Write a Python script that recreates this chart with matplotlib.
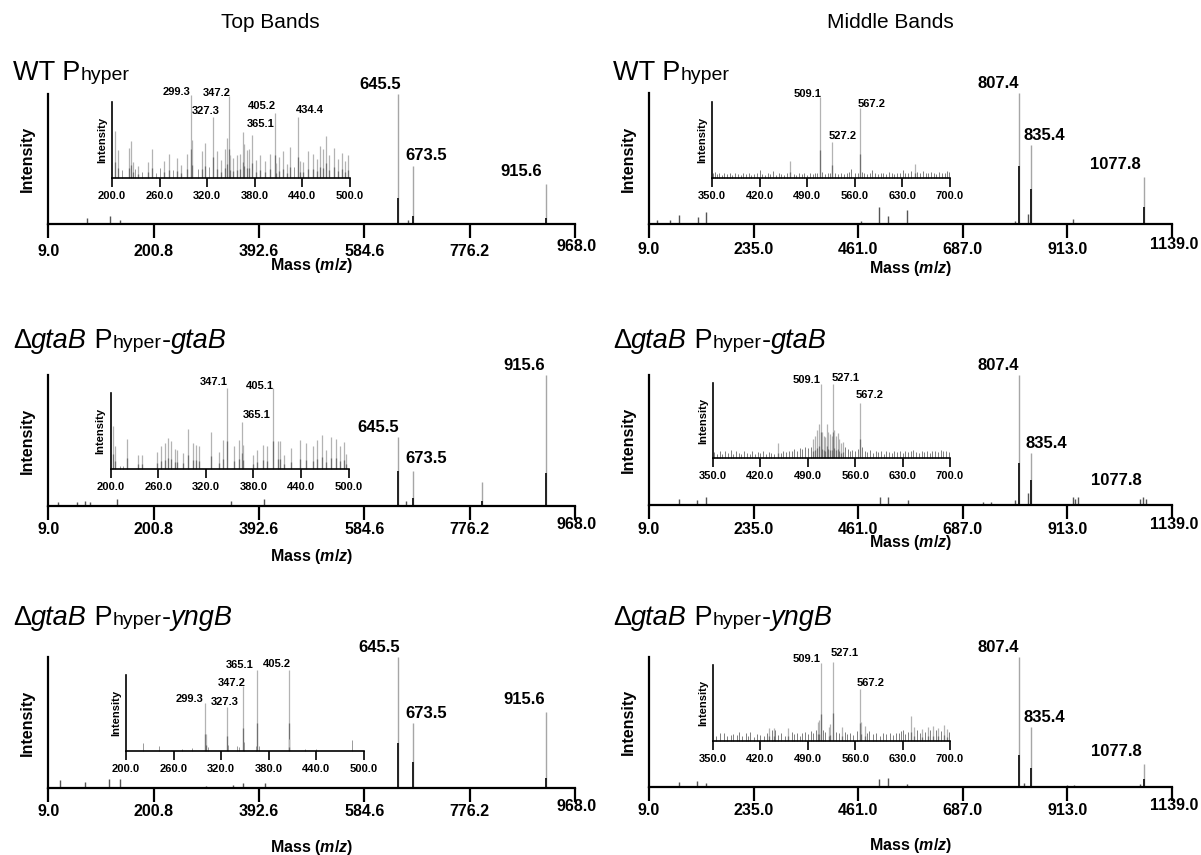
import matplotlib
matplotlib.use("Agg")
import matplotlib.pyplot as plt
from matplotlib.transforms import offset_copy

# ---------------- data ----------------
LEFT_TICKS = [9.0, 200.8, 392.6, 584.6, 776.2, 968.0]
RIGHT_TICKS = [9.0, 235.0, 461.0, 687.0, 913.0, 1139.0]
LEFT_INSET_TICKS = [200.0, 260.0, 320.0, 380.0, 440.0, 500.0]
RIGHT_INSET_TICKS = [350.0, 420.0, 490.0, 560.0, 630.0, 700.0]

COLUMN_TITLES = ["Top Bands", "Middle Bands"]

# Panel A: Top Bands, WT Phyper
A_MAIN_MZ = [30, 79, 121.5, 139, 297, 345, 645.5, 664, 673.5, 915.6]
A_MAIN_INT = [0.01, 0.05, 0.06, 0.03, 0.01, 0.01, 1.0, 0.03, 0.45, 0.31]
A_CORE_MZ = [645.5, 673.5, 915.6]
A_CORE_INT = [0.20, 0.06, 0.05]
A_MAIN_LABELS = [645.5, 673.5, 915.6]
A_INSET_MZ = [204, 208, 213, 222, 224, 226, 229, 233, 238, 245, 251, 256, 260, 266, 272, 277,
              282, 287, 294, 299.3, 300.5, 308, 313, 317, 322, 327.3, 332, 338, 342, 345, 347.2,
              349, 352, 357, 361, 365.1, 367, 370, 373, 377, 382, 387, 393, 399, 405.2, 407, 410,
              416, 420, 424, 429, 434.4, 437, 441, 447, 453, 458, 462, 466, 470, 474, 480, 485,
              490, 494, 497]
A_INSET_INT = [0.62, 0.37, 0.10, 0.39, 0.49, 0.21, 0.12, 0.16, 0.08, 0.21, 0.38, 0.07, 0.13, 0.22,
               0.31, 0.10, 0.26, 0.17, 0.32, 1.09, 0.50, 0.12, 0.35, 0.46, 0.15, 0.80, 0.35, 0.24,
               0.38, 0.53, 1.08, 0.30, 0.26, 0.30, 0.32, 0.61, 0.45, 0.37, 0.38, 0.57, 0.24, 0.30,
               0.22, 0.32, 0.85, 0.20, 0.28, 0.35, 0.18, 0.41, 0.15, 0.80, 0.22, 0.21, 0.35, 0.32,
               0.25, 0.42, 0.38, 0.55, 0.30, 0.40, 0.25, 0.33, 0.22, 0.30]
A_INSET_LABELS = [299.3, 327.3, 347.2, 365.1, 405.2, 434.4]

# Panel B: Middle Bands, WT Phyper
B_MAIN_MZ = [26, 55, 73, 114, 132, 467, 507, 525, 567, 800, 807.4, 828, 835.4, 925, 1040, 1077.8]
B_MAIN_INT = [0.03, 0.03, 0.07, 0.05, 0.09, 0.02, 0.13, 0.06, 0.11, 0.02, 1.0, 0.08, 0.60, 0.04,
              0.01, 0.36]
B_CORE_MZ = [807.4, 835.4, 1077.8]
B_CORE_INT = [0.44, 0.27, 0.13]
B_MAIN_LABELS = [807.4, 835.4, 1077.8]
B_INSET_MZ = [352, 355, 358, 361, 364, 368, 372, 376, 380, 384, 388, 392, 396, 400, 404, 408, 412,
              416, 420, 424, 428, 432, 436, 440, 444, 448, 452, 456, 460, 465, 470, 474, 478, 482,
              486, 490, 494, 498, 502, 505, 509.1, 512, 516, 520, 524, 527.2, 531, 535, 540, 544,
              548, 552, 555, 560, 564, 567.2, 570, 574, 578, 582, 585, 590, 594, 598, 602, 606,
              610, 614, 618, 622, 626, 631, 634, 638, 642, 648, 652, 656, 660, 664, 668, 672, 676,
              680, 684, 688, 692, 696, 699]
B_INSET_INT = [0.06, 0.08, 0.05, 0.07, 0.04, 0.06, 0.05, 0.07, 0.04, 0.06, 0.05, 0.04, 0.07, 0.05,
               0.06, 0.04, 0.05, 0.07, 0.10, 0.05, 0.04, 0.06, 0.05, 0.09, 0.04, 0.06, 0.05, 0.04,
               0.06, 0.22, 0.05, 0.04, 0.06, 0.05, 0.07, 0.04, 0.06, 0.05, 0.07, 0.06, 1.07, 0.08,
               0.05, 0.06, 0.07, 0.48, 0.06, 0.05, 0.07, 0.05, 0.06, 0.08, 0.12, 0.06, 0.07, 0.92,
               0.08, 0.06, 0.05, 0.07, 0.10, 0.06, 0.05, 0.07, 0.06, 0.05, 0.08, 0.06, 0.05, 0.07,
               0.06, 0.10, 0.06, 0.07, 0.09, 0.18, 0.08, 0.06, 0.09, 0.07, 0.06, 0.08, 0.07, 0.05,
               0.08, 0.06, 0.07, 0.09, 0.08]
B_INSET_LABELS = [509.1, 527.2, 567.2]

# Panel C: Top Bands, dgtaB Phyper-gtaB
C_MAIN_MZ = [27, 61, 76, 85, 134, 342, 401, 645.5, 661, 673.5, 798, 915.6]
C_MAIN_INT = [0.03, 0.03, 0.04, 0.03, 0.05, 0.04, 0.05, 0.53, 0.04, 0.27, 0.18, 1.0]
C_CORE_MZ = [645.5, 673.5, 798, 915.6]
C_CORE_INT = [0.27, 0.06, 0.04, 0.25]
C_MAIN_LABELS = [645.5, 673.5, 915.6]
C_INSET_MZ = [203.4, 205, 212, 215, 221, 235, 239, 258, 263, 269, 272, 276, 281, 284, 291, 297,
              304, 308, 311, 327, 336, 341, 347.1, 356, 362, 365.1, 367, 380, 384, 392, 397,
              405.1, 411, 414, 418, 427, 439, 446, 455, 460, 466, 472, 478, 484, 489, 494, 497]
C_INSET_INT = [0.56, 0.30, 0.04, 0.04, 0.40, 0.19, 0.19, 0.22, 0.30, 0.34, 0.41, 0.37, 0.26, 0.25,
               0.21, 0.52, 0.34, 0.32, 0.30, 0.49, 0.22, 0.38, 1.06, 0.30, 0.38, 0.62, 0.32, 0.18,
               0.25, 0.32, 0.30, 1.07, 0.37, 0.37, 0.19, 0.27, 0.38, 0.34, 0.30, 0.38, 0.45, 0.25,
               0.42, 0.40, 0.30, 0.35, 0.20]
C_INSET_LABELS = [347.1, 365.1, 405.1]

# Panel D: Middle Bands, dgtaB Phyper-gtaB
D_MAIN_MZ = [74, 113, 132, 508, 526, 568, 731, 748, 800, 807.4, 828, 835.4, 925, 930, 935,
             1070, 1076, 1082]
D_MAIN_INT = [0.05, 0.04, 0.065, 0.06, 0.06, 0.04, 0.02, 0.02, 0.04, 1.0, 0.09, 0.40, 0.065,
              0.05, 0.06, 0.05, 0.06, 0.05]
D_CORE_MZ = [807.4, 835.4]
D_CORE_INT = [0.32, 0.19]
D_MAIN_LABELS = [807.4, 835.4, 1077.8]
D_INSET_MZ = [352, 356, 360, 364, 368, 372, 376, 380, 384, 388, 392, 396, 400, 404, 408, 412, 416,
              420, 424, 428, 432, 436, 440, 446, 450, 454, 458, 462, 466, 470, 474, 478, 482, 486,
              490, 495, 498, 501, 504, 506, 509.1, 511, 514, 516, 518, 520, 523, 525, 527.1, 529,
              531, 534, 536, 539, 542, 545, 549, 552, 556, 560, 564, 567.2, 570, 574, 578, 582,
              586, 590, 594, 598, 602, 606, 610, 614, 618, 622, 626, 630, 634, 638, 642, 646, 650,
              654, 658, 662, 666, 670, 674, 678, 682, 686, 690, 694, 698]
D_INSET_INT = [0.08, 0.06, 0.10, 0.05, 0.09, 0.07, 0.11, 0.06, 0.09, 0.07, 0.05, 0.10, 0.07, 0.06,
               0.09, 0.05, 0.08, 0.07, 0.10, 0.06, 0.08, 0.07, 0.06, 0.20, 0.07, 0.09, 0.08, 0.10,
               0.09, 0.12, 0.10, 0.13, 0.12, 0.15, 0.14, 0.15, 0.25, 0.30, 0.38, 0.45, 0.99, 0.35,
               0.30, 0.28, 0.45, 0.35, 0.32, 0.30, 0.99, 0.38, 0.30, 0.33, 0.25, 0.20, 0.22, 0.15,
               0.12, 0.10, 0.11, 0.09, 0.12, 0.73, 0.15, 0.09, 0.08, 0.11, 0.07, 0.09, 0.08, 0.10,
               0.06, 0.09, 0.08, 0.07, 0.10, 0.08, 0.09, 0.07, 0.10, 0.08, 0.09, 0.11, 0.08, 0.07,
               0.10, 0.08, 0.09, 0.07, 0.10, 0.09, 0.08, 0.11, 0.09, 0.10, 0.08]
D_INSET_LABELS = [509.1, 527.1, 567.2]

# Panel E: Top Bands, dgtaB Phyper-yngB
E_MAIN_MZ = [30, 76, 120, 139, 297, 345, 364, 404, 645.5, 673.5, 915.6]
E_MAIN_INT = [0.06, 0.045, 0.065, 0.07, 0.015, 0.02, 0.04, 0.04, 1.0, 0.50, 0.58]
E_CORE_MZ = [645.5, 673.5, 915.6]
E_CORE_INT = [0.34, 0.20, 0.08]
E_MAIN_LABELS = [645.5, 673.5, 915.6]
E_INSET_MZ = [222, 241, 271, 283, 299.3, 300.6, 303.5, 327.3, 329, 340, 343, 347.2, 348.5, 364,
              365.1, 368, 405.2, 406, 425, 439, 485]
E_INSET_INT = [0.10, 0.07, 0.03, 0.04, 0.63, 0.22, 0.05, 0.58, 0.08, 0.07, 0.05, 0.85, 0.12, 0.07,
               1.07, 0.06, 1.06, 0.16, 0.03, 0.02, 0.14]
E_INSET_LABELS = [299.3, 327.3, 347.2, 365.1, 405.2]

# Panel F: Middle Bands, dgtaB Phyper-yngB
F_MAIN_MZ = [73, 113, 132, 505, 526, 566, 807.4, 820, 835.4, 912, 928, 1070, 1077.8]
F_MAIN_INT = [0.035, 0.05, 0.03, 0.06, 0.07, 0.02, 1.0, 0.03, 0.46, 0.015, 0.015, 0.025, 0.18]
F_CORE_MZ = [807.4, 835.4, 1077.8]
F_CORE_INT = [0.25, 0.15, 0.06]
F_MAIN_LABELS = [807.4, 835.4, 1077.8]
F_INSET_MZ = [355, 360, 366, 371, 376, 380, 385, 388, 393, 398, 402, 405, 410, 415, 420, 425, 430,
              433, 437, 440, 442, 446, 451, 456, 461, 466, 470, 474, 478, 482, 486, 490, 494, 498,
              502, 505, 507, 509.1, 512, 516, 521, 523, 527.1, 532, 536, 540, 545, 548, 552, 557,
              562, 567.2, 569, 574, 578, 581, 586, 591, 596, 601, 606, 611, 616, 620, 624, 628,
              630, 634, 638, 642, 647, 651, 655, 659, 663, 667, 671, 675, 679, 683, 687, 691, 695,
              699]
F_INSET_INT = [0.06, 0.10, 0.10, 0.07, 0.08, 0.09, 0.08, 0.12, 0.06, 0.10, 0.07, 0.12, 0.05, 0.09,
               0.08, 0.06, 0.10, 0.17, 0.15, 0.17, 0.15, 0.08, 0.10, 0.06, 0.17, 0.12, 0.09, 0.10,
               0.07, 0.11, 0.12, 0.09, 0.13, 0.10, 0.14, 0.25, 0.28, 1.02, 0.15, 0.12, 0.18, 0.22,
               1.04, 0.12, 0.10, 0.18, 0.12, 0.09, 0.10, 0.08, 0.13, 0.69, 0.25, 0.20, 0.10, 0.13,
               0.09, 0.10, 0.07, 0.11, 0.09, 0.10, 0.08, 0.11, 0.10, 0.13, 0.15, 0.09, 0.12, 0.33,
               0.18, 0.14, 0.11, 0.16, 0.12, 0.18, 0.14, 0.20, 0.15, 0.17, 0.13, 0.21, 0.16, 0.12]
F_INSET_LABELS = [509.1, 527.1, 567.2]

# ---------------- style / layout ----------------
W, H = 1201, 855
plt.rcParams["font.family"] = ["Liberation Sans", "DejaVu Sans"]
plt.rcParams["mathtext.fontset"] = "custom"
plt.rcParams["mathtext.it"] = "Liberation Sans:italic:bold"
plt.rcParams["mathtext.rm"] = "Liberation Sans:bold"
plt.rcParams["mathtext.bf"] = "Liberation Sans:bold"

fig = plt.figure(figsize=(W / 100, H / 100), dpi=100)
fig.patch.set_facecolor("white")


def px_axes(box):
    x0, x1, ytop, ybase = box
    return fig.add_axes([x0 / W, 1 - ybase / H, (x1 - x0) / W, (ybase - ytop) / H])


PANELS = [
    dict(col=0, main=(A_MAIN_MZ, A_MAIN_INT), core=(A_CORE_MZ, A_CORE_INT),
         labels=A_MAIN_LABELS, inset=(A_INSET_MZ, A_INSET_INT), ilabels=A_INSET_LABELS,
         mbox=(48.3, 575, 94, 224), ibox=(112, 350, 102, 178),
         moff=[(-18, 2), (13, 3), (-25, 5)],
         ioff=[(-14, -2), (-7, 1), (-12, -2), (18, 3), (-13, 2), (12, 2)],
         tick_pad=6, xlab=41, title_y=80, title="wt"),
    dict(col=1, main=(B_MAIN_MZ, B_MAIN_INT), core=(B_CORE_MZ, B_CORE_INT),
         labels=B_MAIN_LABELS, inset=(B_INSET_MZ, B_INSET_INT), ilabels=B_INSET_LABELS,
         mbox=(649, 1172, 93, 224), ibox=(712, 950, 102, 178),
         moff=[(-20, 2), (13, 2), (-28, 5)],
         ioff=[(-13, -2), (10, 1), (12, -1)],
         tick_pad=4, xlab=44, title_y=80, title="wt"),
    dict(col=0, main=(C_MAIN_MZ, C_MAIN_INT), core=(C_CORE_MZ, C_CORE_INT),
         labels=C_MAIN_LABELS, inset=(C_INSET_MZ, C_INSET_INT), ilabels=C_INSET_LABELS,
         mbox=(48.3, 575, 375, 506), ibox=(110.7, 348.7, 393, 469),
         moff=[(-20, 2), (13, 5), (-22, 2)],
         ioff=[(-14, 1), (15, 2), (-14, -3)],
         tick_pad=2, xlab=51, title_y=348, title="gtaB"),
    dict(col=1, main=(D_MAIN_MZ, D_MAIN_INT), core=(D_CORE_MZ, D_CORE_INT),
         labels=D_MAIN_LABELS, inset=(D_INSET_MZ, D_INSET_INT), ilabels=D_INSET_LABELS,
         mbox=(649, 1172, 375, 505), ibox=(713, 950, 383, 458),
         moff=[(-20, 2), (15, 2), (-27, 9)],
         ioff=[(-14, -1), (13, 1), (10, 3)],
         tick_pad=3, xlab=37, title_y=348, title="gtaB"),
    dict(col=0, main=(E_MAIN_MZ, E_MAIN_INT), core=(E_CORE_MZ, E_CORE_INT),
         labels=E_MAIN_LABELS, inset=(E_INSET_MZ, E_INSET_INT), ilabels=E_INSET_LABELS,
         mbox=(48.3, 575, 657, 788), ibox=(126, 364, 675, 751),
         moff=[(-19, 2), (13, 2), (-22, 5)],
         ioff=[(-15, -1), (-2, 0), (-11, -2), (-17, 0), (-12, 1)],
         tick_pad=2, xlab=59, title_y=625, title="yngB"),
    dict(col=1, main=(F_MAIN_MZ, F_MAIN_INT), core=(F_CORE_MZ, F_CORE_INT),
         labels=F_MAIN_LABELS, inset=(F_INSET_MZ, F_INSET_INT), ilabels=F_INSET_LABELS,
         mbox=(649, 1172, 657, 787), ibox=(713, 950, 665, 741),
         moff=[(-20, 2), (13, 2), (-27, 5)],
         ioff=[(-14, -1), (12, 4), (11, 1)],
         tick_pad=2, xlab=58, title_y=625, title="yngB"),
]

renderer = fig.canvas.get_renderer()


def rich_text(x_px, y_px, parts):
    x = x_px
    for s, size, style in parts:
        t = fig.text(x / W, 1 - y_px / H, s, fontsize=size, style=style,
                     ha="left", va="baseline")
        x += t.get_window_extent(renderer).width


def title_parts(kind):
    big, small = 19.5, 14
    if kind == "wt":
        return [("WT P", big, "normal"), ("hyper", small, "normal")]
    return [("\u0394", big, "normal"), ("gtaB", big, "italic"), (" P", big, "normal"),
            ("hyper", small, "normal"), ("-", big, "normal"), (kind, big, "italic")]


for p in PANELS:
    ticks = LEFT_TICKS if p["col"] == 0 else RIGHT_TICKS
    iticks = LEFT_INSET_TICKS if p["col"] == 0 else RIGHT_INSET_TICKS

    # ---- main spectrum ----
    ax = px_axes(p["mbox"])
    mz, inten = p["main"]
    for m, h in zip(mz, inten):
        ax.vlines(m, 0, h, color="#a6a6a6" if h > 0.15 else "#555555",
                  lw=1.0, clip_on=False)
    cmz, cint = p["core"]
    ax.vlines(cmz, 0, cint, color="#222222", lw=1.4)
    ax.set_xlim(ticks[0], ticks[-1])
    ax.set_ylim(0, 1.0)
    ax.set_xticks(ticks)
    ax.set_xticklabels([f"{t:.1f}" for t in ticks[:-1]] + [""], fontsize=11.5,
                       fontweight="bold")
    ax.text(ticks[-1], 0, f"{ticks[-1]:.1f}",
            transform=offset_copy(ax.transData, fig=fig, x=2,
                                  y=-(14 + p["tick_pad"] - 5), units="dots"),
            fontsize=11.5, fontweight="bold", ha="center", va="top", clip_on=False)
    ax.set_yticks([])
    ax.tick_params(axis="x", direction="out", length=10, width=1.6, pad=p["tick_pad"] * 0.72)
    for s in ("top", "right"):
        ax.spines[s].set_visible(False)
    for s in ("left", "bottom"):
        ax.spines[s].set_linewidth(1.6)
    ax.set_facecolor("none")
    ax.set_ylabel("Intensity", fontsize=11.5, fontweight="bold")
    ax.yaxis.set_label_coords(-13 / (p["mbox"][1] - p["mbox"][0]), 0.5)
    ax.set_xlabel(r"Mass ($m/z$)", fontsize=11.5, fontweight="bold")
    ax.xaxis.set_label_coords(0.5, -p["xlab"] / (p["mbox"][3] - p["mbox"][2]))
    ax.xaxis.label.set_va("center")
    lookup = dict(zip(mz, inten))
    for lab, (dx, dy) in zip(p["labels"], p["moff"]):
        ax.annotate(f"{lab:.1f}", xy=(lab, lookup.get(lab, 0.06)), xytext=(dx, dy),
                    textcoords="offset pixels", ha="center", va="bottom",
                    fontsize=12, fontweight="bold", annotation_clip=False)

    # ---- inset ----
    ia = px_axes(p["ibox"])
    imz, iint = p["inset"]
    light = "#b3b3b3"
    for m, h in zip(imz, iint):
        if h > 0.15:
            ia.vlines(m, 0, h, color=light, lw=0.9, clip_on=False)
            ia.vlines(m, 0, h * 0.35, color="#707070", lw=0.9)
        else:
            ia.vlines(m, 0, h, color="#6a6a6a" if p["col"] == 1 else "#8a8a8a",
                      lw=0.6, clip_on=False)
    ia.set_xlim(iticks[0], iticks[-1])
    ia.set_ylim(0, 1.0)
    ia.set_xticks(iticks)
    ia.set_xticklabels([f"{t:.1f}" for t in iticks], fontsize=8, fontweight="bold")
    ia.set_yticks([])
    ia.tick_params(axis="x", direction="out", length=6.5, width=1.2, pad=2.5)
    for s in ("top", "right"):
        ia.spines[s].set_visible(False)
    for s in ("left", "bottom"):
        ia.spines[s].set_linewidth(1.2)
    ia.set_facecolor("none")
    ia.set_ylabel("Intensity", fontsize=8, fontweight="bold")
    ia.yaxis.set_label_coords(-5 / (p["ibox"][1] - p["ibox"][0]), 0.5)
    ilookup = dict(zip(imz, iint))
    for lab, (dx, dy) in zip(p["ilabels"], p["ioff"]):
        ia.annotate(f"{lab:.1f}", xy=(lab, ilookup[lab]), xytext=(dx, dy),
                    textcoords="offset pixels", ha="center", va="bottom",
                    fontsize=8, fontweight="bold", annotation_clip=False)

    # ---- panel title ----
    tx = 13 if p["col"] == 0 else 613
    rich_text(tx, p["title_y"], title_parts(p["title"]))

fig.text(270 / W, 1 - 22 / H, COLUMN_TITLES[0], fontsize=15, ha="center", va="center")
fig.text(890 / W, 1 - 22 / H, COLUMN_TITLES[1], fontsize=15, ha="center", va="center")

fig.savefig("out.png", dpi=100, facecolor="white")
